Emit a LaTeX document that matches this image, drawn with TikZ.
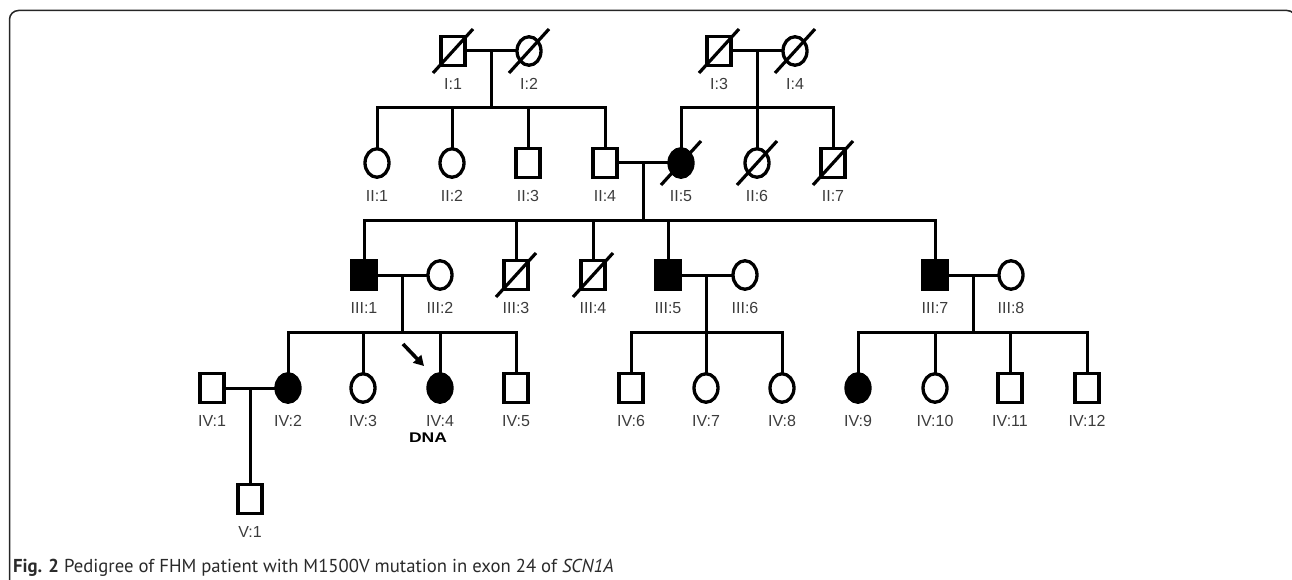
\documentclass[tikz,border=0pt]{standalone}
\usepackage{fontspec}
\setmainfont{Liberation Sans}
\newfontfamily\capfont{PT Sans}
\usetikzlibrary{shapes.geometric,arrows.meta}
\definecolor{lblgray}{HTML}{3C3C3C}
\definecolor{capgray}{HTML}{2A2A2A}
\newcommand\psn[5]{%
  \node[#1] (#2) at (#3,#4) {};
  \node[lbl] (#2l) at (#3,#4+33) {#5};}
\newcommand\dec[1]{%
  \draw[deadline] ([shift={(-20,22)}]#1.center) -- ([shift={(20,-22)}]#1.center);}
\begin{document}
\begin{tikzpicture}[x=1pt,y=-1pt,
  every node/.style={inner sep=0pt, outer sep=0pt},
  sym/.style={draw=black, line width=3.3pt, fill=white},
  male/.style={sym, rectangle, minimum width=24pt, minimum height=28.5pt},
  female/.style={sym, ellipse, minimum width=24pt, minimum height=28.5pt},
  aff/.style={fill=black},
  lbl/.style={font=\fontsize{16}{18}\selectfont, text=lblgray},
  conn/.style={line width=3pt, draw=black},
  deadline/.style={line width=3.2pt, draw=black}
]
\useasboundingbox (0,0) rectangle (1292,580);
% frame
\draw[line width=1.5pt, draw=black!85, rounded corners=9pt] (9.5,600) -- (9.5,10.5) -- (1296,10.5) -- (1296,600);

% Generation I
\psn{male}{I1}{453}{51}{I:1}
\psn{female}{I2}{529}{51}{I:2}
\psn{male}{I3}{719}{51}{I:3}
\psn{female}{I4}{795}{51}{I:4}

% Generation II
\psn{female}{II1}{377}{163}{II:1}
\psn{female}{II2}{452}{163}{II:2}
\psn{male}{II3}{528}{163}{II:3}
\psn{male}{II4}{605}{163}{II:4}
\psn{female,aff}{II5}{681}{163}{II:5}
\psn{female}{II6}{757}{163}{II:6}
\psn{male}{II7}{833}{163}{II:7}

% Generation III
\psn{male,aff}{III1}{364}{275}{III:1}
\psn{female}{III2}{440}{275}{III:2}
\psn{male}{III3}{516}{275}{III:3}
\psn{male}{III4}{593}{275}{III:4}
\psn{male,aff}{III5}{668}{275}{III:5}
\psn{female}{III6}{745}{275}{III:6}
\psn{male,aff}{III7}{935}{275}{III:7}
\psn{female}{III8}{1011}{275}{III:8}

% Generation IV
\psn{male}{IV1}{212}{388}{IV:1}
\psn{female,aff}{IV2}{288}{388}{IV:2}
\psn{female}{IV3}{363}{388}{IV:3}
\psn{female,aff}{IV4}{440}{388}{IV:4}
\psn{male}{IV5}{516}{388}{IV:5}
\psn{male}{IV6}{631}{388}{IV:6}
\psn{female}{IV7}{706}{388}{IV:7}
\psn{female}{IV8}{782}{388}{IV:8}
\psn{female,aff}{IV9}{858}{388}{IV:9}
\psn{female}{IV10}{935}{388}{IV:10}
\psn{male}{IV11}{1010}{388}{IV:11}
\psn{male}{IV12}{1087}{388}{IV:12}

% Generation V
\psn{male}{V1}{250}{499}{V:1}

% deceased marks
\foreach \n in {I1,I2,I3,I4,II5,II6,II7,III3,III4} {\dec{\n}}

% marriages and sibships
\begin{scope}[conn]
\draw (I1.east) -- coordinate[midway] (m1) (I2.west);
\draw (m1) -- ++(0,57) coordinate (s1);
\draw (II1.north) |- (s1) -| (II4.north);
\draw (II2.north) -- (II2.north |- s1);
\draw (II3.north) -- (II3.north |- s1);

\draw (I3.east) -- coordinate[midway] (m2) (I4.west);
\draw (m2) -- ++(0,57) coordinate (s2);
\draw (II5.north) |- (s2) -| (II7.north);
\draw (II6.north) -- (II6.north |- s2);

\draw (II4.east) -- coordinate[midway] (m3) (II5.west);
\draw (m3) -- ++(0,57) coordinate (s3);
\draw (III1.north) |- (s3) -| (III7.north);
\draw (III3.north) -- (III3.north |- s3);
\draw (III4.north) -- (III4.north |- s3);
\draw (III5.north) -- (III5.north |- s3);

\draw (III1.east) -- coordinate[midway] (m4) (III2.west);
\draw (m4) -- ++(0,57) coordinate (s4);
\draw (IV2.north) |- (s4) -| (IV5.north);
\draw (IV3.north) -- (IV3.north |- s4);
\draw (IV4.north) -- (IV4.north |- s4);

\draw (III5.east) -- coordinate[midway] (m5) (III6.west);
\draw (m5) -- ++(0,57) coordinate (s5);
\draw (IV6.north) |- (s5) -| (IV8.north);
\draw (IV7.north) -- (IV7.north |- s5);

\draw (III7.east) -- coordinate[midway] (m6) (III8.west);
\draw (m6) -- ++(0,57) coordinate (s6);
\draw (IV9.north) |- (s6) -| (IV12.north);
\draw (IV10.north) -- (IV10.north |- s6);
\draw (IV11.north) -- (IV11.north |- s6);

\draw (IV1.east) -- coordinate[midway] (m7) (IV2.west);
\draw (m7) -- (m7 |- V1.north);
\end{scope}

% proband arrow and DNA
\coordinate (arrS) at (403,344);
\coordinate (arrE) at (424,366);
\draw[line width=3.6pt, -{Triangle[length=10pt,width=11pt]}] (arrS) -- (arrE);
\node[font=\bfseries\fontsize{14}{16}\selectfont] (dna) at (428,438) {\scalebox{1.25}[1]{DNA}};

% caption
\node[anchor=base west, text=capgray, font=\capfont\fontsize{18.7}{20}\selectfont] (cap) at (13,572)
  {\textbf{Fig. 2} Pedigree of FHM patient with M1500V mutation in exon 24 of \textit{SCN1A}};
\end{tikzpicture}
\end{document}
